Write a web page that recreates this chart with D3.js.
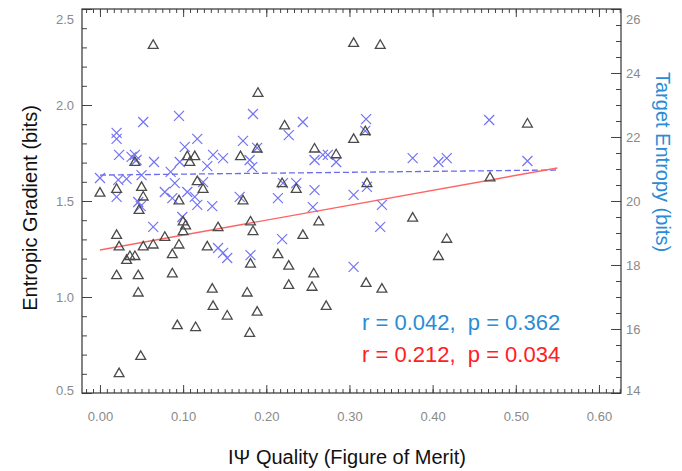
<!DOCTYPE html>
<html>
<head>
<meta charset="utf-8">
<script src="https://cdn.jsdelivr.net/npm/d3@7"></script>
<style>
  body { margin: 0; background: #fff; }
  text { font-family: "Liberation Sans", Arial, sans-serif; }
</style>
</head>
<body>
<div id="chart"></div>
<script>
// Entropic gradient (triangles, left axis) vs quality
var gradQuality = [0.000,0.020,0.042,0.050,0.052,0.047,0.064,0.305,0.337,0.190,0.222,0.319,0.305,0.514,
  0.105,0.114,0.108,0.117,0.124,0.095,0.100,0.103,0.100,0.078,0.064,0.052,0.023,0.020,0.036,0.032,0.042,
  0.087,0.095,0.129,0.142,0.169,0.172,0.181,0.184,0.181,0.189,0.258,0.284,0.219,0.236,0.321,0.263,0.244,
  0.214,0.376,0.227,0.469,0.417,0.407,0.020,0.046,0.087,0.046,0.135,0.177,0.136,0.153,0.189,0.093,0.115,
  0.180,0.049,0.023,0.257,0.227,0.255,0.320,0.339,0.272];
var gradValue = [1.54,1.56,1.70,1.57,1.52,1.45,2.31,2.32,2.31,2.06,1.89,1.86,1.82,1.90,
  1.73,1.73,1.70,1.60,1.56,1.50,1.39,1.37,1.34,1.31,1.27,1.26,1.26,1.32,1.21,1.19,1.21,
  1.22,1.27,1.26,1.36,1.73,1.50,1.39,1.34,1.17,1.77,1.77,1.74,1.59,1.56,1.59,1.39,1.32,
  1.22,1.41,1.16,1.62,1.30,1.21,1.11,1.11,1.12,1.02,1.04,1.02,0.95,0.90,0.92,0.85,0.84,
  0.81,0.69,0.60,1.12,1.06,1.05,1.07,1.04,0.95];

// Target entropy (crosses, right axis) vs quality
var entQuality = [0.052,0.095,0.184,0.020,0.020,0.117,0.172,0.244,0.320,0.227,0.319,0.468,
  0.023,0.038,0.042,0.044,0.065,0.000,0.022,0.032,0.050,0.020,0.046,0.049,0.078,0.090,0.105,0.087,
  0.114,0.117,0.135,0.064,0.099,0.102,0.096,0.085,0.136,0.148,0.129,0.124,0.180,0.183,0.168,0.142,
  0.148,0.181,0.153,0.189,0.258,0.268,0.274,0.284,0.376,0.220,0.236,0.258,0.214,0.256,0.305,0.321,
  0.339,0.337,0.219,0.305,0.407,0.417,0.514];
var entValue = [22.47,22.66,22.72,22.13,21.94,21.94,21.88,22.47,22.56,22.06,22.19,22.53,
  21.44,21.38,21.44,21.28,21.22,20.72,20.66,20.69,20.81,20.13,19.97,19.84,20.28,20.56,20.28,20.09,
  20.13,19.88,19.84,19.19,19.50,21.69,21.22,20.91,21.44,21.34,21.09,20.59,21.28,21.06,20.13,18.53,
  18.38,18.31,18.22,21.66,21.28,21.44,21.44,21.22,21.34,20.56,20.56,20.34,20.09,19.81,20.19,20.44,
  19.88,19.19,18.81,17.94,21.22,21.34,21.25];

// fitted lines (end points)
var fitX = [0, 0.55];
var gradFit = [1.245, 1.672];
var entFit = [20.81, 20.97];

var xTicks = [0, 0.1, 0.2, 0.3, 0.4, 0.5, 0.6];
var xTickLabels = ["0.00", "0.10", "0.20", "0.30", "0.40", "0.50", "0.60"];
var leftTicks = [0.5, 1.0, 1.5, 2.0, 2.5];
var rightTicks = [14, 16, 18, 20, 22, 24, 26];

var width = 682, height = 471;
// plot box (note: "top" is a reserved window property, so use other names)
var boxL = 82, boxR = 621, boxT = 9, boxB = 393;

var svg = d3.select("#chart").append("svg")
    .attr("width", width)
    .attr("height", height);

var x = d3.scaleLinear().domain([-0.0216, 0.6265]).range([boxL, boxR]);
var yL = d3.scaleLinear().domain([0.5, 2.5]).range([boxB, boxT]);
var yR = d3.scaleLinear().domain([14, 26]).range([boxB, boxT]);

var tickColor = "#444";
var labelColor = "#8a8a8a";

function styleAxis(g) {
  g.select(".domain").remove();
  g.selectAll(".tick line").attr("stroke", tickColor).attr("stroke-width", 1);
  g.selectAll(".tick text").attr("fill", labelColor).style("font-size", "13px");
}

// minor ticks
var xMinor = d3.range(-0.0167, 0.626, 0.1 / 12);
var lMinor = d3.range(0.5, 2.51, 0.1);
var rMinor = d3.range(14, 26.01, 0.5);

svg.append("g").attr("transform", "translate(0," + boxB + ")")
  .call(d3.axisBottom(x).tickValues(xMinor).tickSize(-4).tickFormat(""))
  .call(styleAxis);
svg.append("g").attr("transform", "translate(0," + boxT + ")")
  .call(d3.axisTop(x).tickValues(xMinor).tickSize(-4).tickFormat(""))
  .call(styleAxis);
svg.append("g").attr("transform", "translate(" + boxL + ",0)")
  .call(d3.axisLeft(yL).tickValues(lMinor).tickSize(-5).tickFormat(""))
  .call(styleAxis);
svg.append("g").attr("transform", "translate(" + boxR + ",0)")
  .call(d3.axisRight(yR).tickValues(rMinor).tickSize(-5).tickFormat(""))
  .call(styleAxis);

// major ticks + labels
svg.append("g").attr("transform", "translate(0," + boxB + ")")
  .call(d3.axisBottom(x).tickValues(xTicks).tickSizeInner(-8).tickSizeOuter(0).tickPadding(19)
    .tickFormat(function(d, i) { return xTickLabels[i]; }))
  .call(styleAxis);
svg.append("g").attr("transform", "translate(0," + boxT + ")")
  .call(d3.axisTop(x).tickValues(xTicks).tickSizeInner(-8).tickSizeOuter(0).tickFormat(""))
  .call(styleAxis);
svg.append("g").attr("transform", "translate(" + boxL + ",0)")
  .call(d3.axisLeft(yL).tickValues(leftTicks).tickSizeInner(-10).tickSizeOuter(0).tickPadding(8)
    .tickFormat(d3.format(".1f")))
  .call(styleAxis)
  .call(function(g) {
    g.selectAll(".tick text").attr("dy", function(d) { return d == 2.5 ? "1.15em" : (d == 0.5 ? "0.1em" : "0.32em"); });
  });
svg.append("g").attr("transform", "translate(" + boxR + ",0)")
  .call(d3.axisRight(yR).tickValues(rightTicks).tickSizeInner(-10).tickSizeOuter(0).tickPadding(5)
    .tickFormat(d3.format("d")))
  .call(styleAxis)
  .call(function(g) {
    g.selectAll(".tick text").attr("dy", function(d) { return d == 26 ? "1.15em" : (d == 14 ? "0.1em" : "0.32em"); });
  });

// frame
svg.append("rect")
  .attr("x", boxL).attr("y", boxT)
  .attr("width", boxR - boxL).attr("height", boxB - boxT)
  .attr("fill", "none").attr("stroke", "#333").attr("stroke-width", 1.2);

// fit lines
svg.append("line")
  .attr("x1", x(fitX[0])).attr("y1", yR(entFit[0]))
  .attr("x2", x(fitX[1])).attr("y2", yR(entFit[1]))
  .attr("stroke", "#6b6bf0").attr("stroke-width", 1.3).attr("stroke-dasharray", "6,3");
svg.append("line")
  .attr("x1", x(fitX[0])).attr("y1", yL(gradFit[0]))
  .attr("x2", x(fitX[1])).attr("y2", yL(gradFit[1]))
  .attr("stroke", "#ff6464").attr("stroke-width", 1.4);

// crosses
var cross = "M-5,-5L5,5M-5,5L5,-5";
svg.append("g").selectAll("path")
  .data(entQuality)
  .enter().append("path")
  .attr("d", cross)
  .attr("transform", function(d, i) { return "translate(" + x(d) + "," + yR(entValue[i]) + ")"; })
  .attr("fill", "none")
  .attr("stroke", "#7373f5")
  .attr("stroke-width", 1.2);

// triangles
var tri = d3.symbol().type(d3.symbolTriangle).size(42);
svg.append("g").selectAll("path")
  .data(gradQuality)
  .enter().append("path")
  .attr("d", tri)
  .attr("transform", function(d, i) { return "translate(" + x(d) + "," + yL(gradValue[i]) + ")"; })
  .attr("fill", "none")
  .attr("stroke", "#4a4a4a")
  .attr("stroke-width", 1.3);

// stats
svg.append("text")
  .attr("x", 362).attr("y", 330)
  .attr("fill", "#2a8cd6")
  .style("font-size", "22px")
  .style("white-space", "pre")
  .text("r = 0.042,  p = 0.362");
svg.append("text")
  .attr("x", 362).attr("y", 362)
  .attr("fill", "#ff2020")
  .style("font-size", "22px")
  .style("white-space", "pre")
  .text("r = 0.212,  p = 0.034");

// axis titles
svg.append("text")
  .attr("transform", "translate(37,208) rotate(-90)")
  .attr("text-anchor", "middle")
  .attr("fill", "#111")
  .style("font-size", "20px")
  .text("Entropic Gradient (bits)");
svg.append("text")
  .attr("transform", "translate(656,162) rotate(90)")
  .attr("text-anchor", "middle")
  .attr("fill", "#2a8cd6")
  .style("font-size", "20px")
  .text("Target Entropy (bits)");
svg.append("text")
  .attr("x", 347).attr("y", 464)
  .attr("text-anchor", "middle")
  .attr("fill", "#111")
  .style("font-size", "20px")
  .text("IΨ Quality (Figure of Merit)");
</script>
</body>
</html>
